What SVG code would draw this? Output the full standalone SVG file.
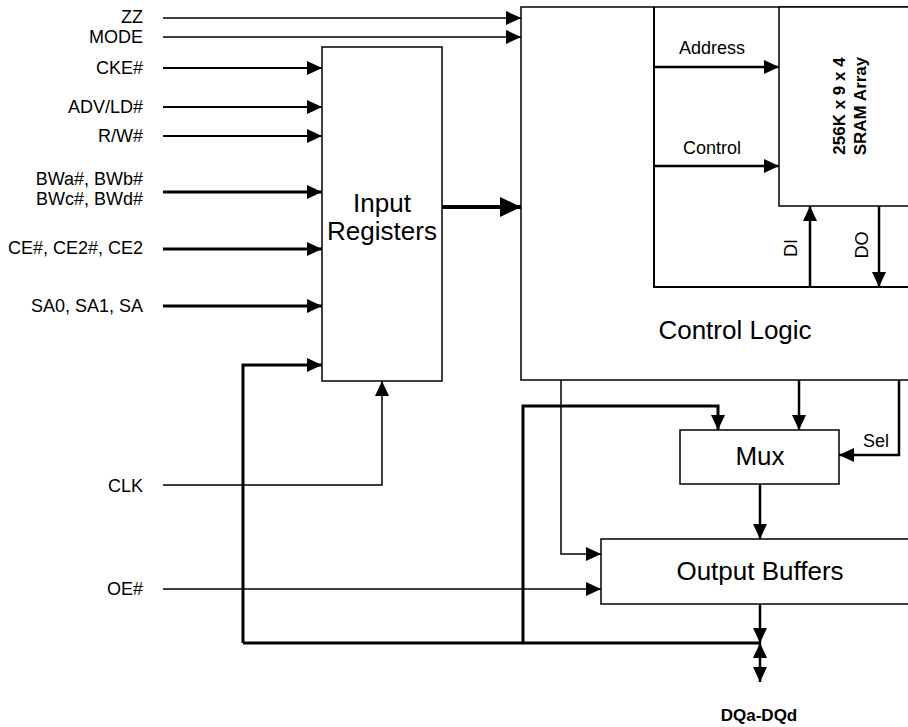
<svg xmlns="http://www.w3.org/2000/svg" width="908" height="727" viewBox="0 0 908 727">
<style>
text{font-family:"Liberation Sans",Arial,sans-serif;fill:#000}
.lbl{font-size:18px}
.lft{font-size:18px;text-anchor:end}
.big{font-size:26px;text-anchor:middle}
.bold{font-size:17px;font-weight:bold;text-anchor:middle}
.box{fill:#fff;stroke:#000;stroke-width:1.5}
.w1{fill:none;stroke:#000;stroke-width:1.5}
.w15{fill:none;stroke:#000;stroke-width:2}
.w2{fill:none;stroke:#000;stroke-width:2.5}
.w25{fill:none;stroke:#000;stroke-width:3}
.w3{fill:none;stroke:#000;stroke-width:4}
</style>
<defs>
<marker id="a" markerUnits="userSpaceOnUse" markerWidth="15" markerHeight="14" refX="15" refY="7" orient="auto-start-reverse"><path d="M0,0 L15,7 L0,14 z" fill="#000"/></marker>
<marker id="ab" markerUnits="userSpaceOnUse" markerWidth="21" markerHeight="20" refX="21" refY="10" orient="auto"><path d="M0,0 L21,10 L0,20 z" fill="#000"/></marker>
</defs>
<g id="input-registers"><rect class="box" x="322" y="47" width="120" height="334"/><text class="big" x="382" y="212">Input</text><text class="big" x="382" y="240">Registers</text></g>
<g id="control-logic"><rect class="box" x="521" y="7" width="400" height="373"/><text class="big" x="735" y="339">Control Logic</text></g>
<g id="sram-array"><rect class="box" x="779" y="7" width="140" height="199"/><text class="bold" transform="translate(845,106) rotate(-90)">256K x 9 x 4</text><text class="bold" transform="translate(866,106) rotate(-90)">SRAM Array</text></g>
<g id="mux"><rect class="box" x="680" y="430" width="159" height="54"/><text class="big" x="760" y="465">Mux</text></g>
<g id="output-buffers"><rect class="box" x="601" y="539" width="320" height="65"/><text class="big" x="760" y="580">Output Buffers</text></g>
<g id="labels">
<text class="lft" x="143" y="23">ZZ</text>
<text class="lft" x="143" y="43">MODE</text>
<text class="lft" x="143" y="74">CKE#</text>
<text class="lft" x="143" y="113">ADV/LD#</text>
<text class="lft" x="143" y="142">R/W#</text>
<text class="lft" x="143" y="185">BWa#, BWb#</text>
<text class="lft" x="143" y="205">BWc#, BWd#</text>
<text class="lft" x="143" y="254">CE#, CE2#, CE2</text>
<text class="lft" x="143" y="312">SA0, SA1, SA</text>
<text class="lft" x="143" y="492">CLK</text>
<text class="lft" x="143" y="595">OE#</text>
<text class="lbl" x="712" y="54" text-anchor="middle">Address</text>
<text class="lbl" x="712" y="154" text-anchor="middle">Control</text>
<text class="lbl" transform="translate(797,248) rotate(-90)" text-anchor="middle">DI</text>
<text class="lbl" transform="translate(868,245) rotate(-90)" text-anchor="middle">DO</text>
<text class="lbl" x="863" y="447">Sel</text>
<text class="bold" x="759" y="721">DQa-DQd</text>
</g>
<g id="connectors">
<path class="w1" d="M163,18 H521" marker-end="url(#a)"/>
<path class="w1" d="M163,37 H521" marker-end="url(#a)"/>
<path class="w15" d="M163,68 H322" marker-end="url(#a)"/>
<path class="w15" d="M163,107 H322" marker-end="url(#a)"/>
<path class="w15" d="M163,136 H322" marker-end="url(#a)"/>
<path class="w25" d="M163,192 H322" marker-end="url(#a)"/>
<path class="w25" d="M163,249 H322" marker-end="url(#a)"/>
<path class="w25" d="M163,306 H322" marker-end="url(#a)"/>
<path class="w1" d="M163,485 H382 V381" marker-end="url(#a)"/>
<path class="w1" d="M163,589 H601" marker-end="url(#a)"/>
<path class="w3" d="M442,207 H521" marker-end="url(#ab)"/>
<path class="w15" d="M654,7 V287 H908"/>
<path class="w2" d="M654,67 H779" marker-end="url(#a)"/>
<path class="w2" d="M654,166 H779" marker-end="url(#a)"/>
<path class="w2" d="M810,287 V206" marker-end="url(#a)"/>
<path class="w2" d="M879,206 V287" marker-end="url(#a)"/>
<path class="w1" d="M561,380 V554 H601" marker-end="url(#a)"/>
<path class="w2" d="M799,380 V430" marker-end="url(#a)"/>
<path class="w2" d="M899,380 V455 H839" marker-end="url(#a)"/>
<path class="w25" d="M523,643 V406 H718 V430" marker-end="url(#a)"/>
<path class="w25" d="M243,643 V365 H322" marker-end="url(#a)"/>
<path class="w25" d="M243,643 H760"/>
<path class="w2" d="M760,484 V539" marker-end="url(#a)"/>
<path class="w2" d="M760,604 V643" marker-end="url(#a)"/>
<path class="w2" d="M760,643 V682" marker-start="url(#a)" marker-end="url(#a)"/>
</g>
</svg>
